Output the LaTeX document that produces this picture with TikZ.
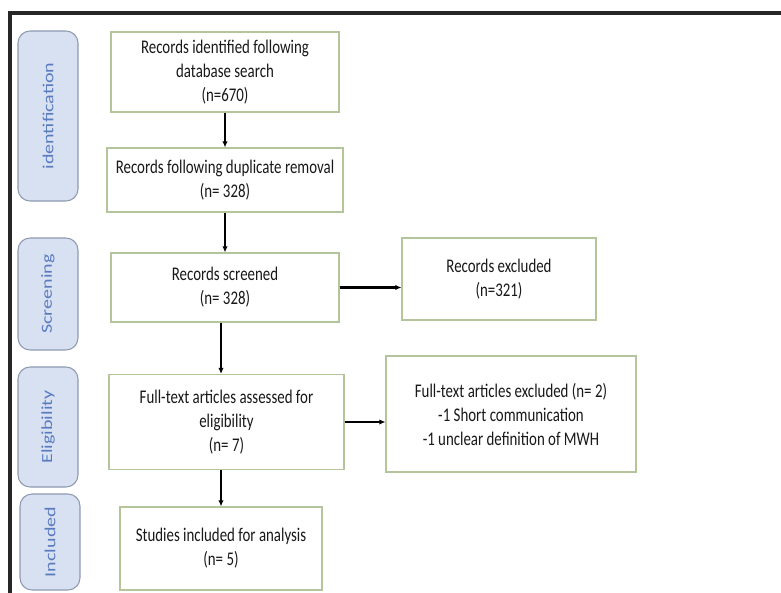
\documentclass[tikz,border=0pt]{standalone}
\usepackage{fontspec}
\setmainfont{Carlito}[FakeStretch=0.77]
\newfontfamily\phasefont{Carlito}
\usetikzlibrary{arrows.meta}
\definecolor{boxgreen}{HTML}{B4C59B}
\definecolor{phasefill}{HTML}{D8E1F2}
\definecolor{phaseedge}{HTML}{8E9AB0}
\definecolor{phasetext}{HTML}{5A7BBF}

\begin{document}
\begin{tikzpicture}[x=0.75pt,y=-0.75pt,>={Latex[length=4.5pt,width=4pt]},
  box/.style={draw=boxgreen,line width=0.9pt,fill=white,align=center,inner sep=2pt,
    text=black!90,font=\fontsize{14.5}{18}\selectfont},
  phase/.style={draw=phaseedge,fill=phasefill,rounded corners=9pt,line width=0.8pt,
    rotate=90,yscale=0.77,minimum height=58.4pt,text=phasetext,
    font=\phasefont\fontsize{15}{18}\selectfont},
  link/.style={->,line width=1.3pt}]
  \useasboundingbox (0,0) rectangle (781,592);
  \draw[line width=2.4pt,black!85] (10,600) -- (10,13) -- (790,13);

  % phases down the left side
  \foreach \nm/\x/\y/\len/\txt in {ident/48/116/127.5pt/identification,
                                   screen/48/294/84pt/Screening,
                                   elig/48/427/90pt/Eligibility,
                                   incl/50/542/72pt/Included}
    \node[phase,minimum width=\len] (\nm) at (\x,\y) {\txt};

  \node[box,minimum width=171pt,minimum height=60pt] (b1) at (225,72)
    {Records identified following\\database search\\(n=670)};
  \node[box,minimum width=177pt,minimum height=48pt] (b2) at (225,180)
    {Records following duplicate removal\\(n= 328)};
  \node[box,minimum width=171pt,minimum height=51.75pt] (b3) at (225,287.5)
    {Records screened\\(n= 328)};
  \node[box,minimum width=176.25pt,minimum height=71.25pt] (b4) at (226.5,422)
    {Full-text articles assessed for\\eligibility\\(n= 7)};
  \node[box,minimum width=151.5pt,minimum height=62.25pt] (b5) at (221,548.5)
    {Studies included for analysis\\(n= 5)};
  \node[box,minimum width=145.5pt,minimum height=61.5pt] (r1) at (499,279)
    {Records excluded\\(n=321)};
  \node[box,minimum width=187.5pt,minimum height=87pt] (r2) at (511,414)
    {Full-text articles excluded (n= 2)\\-1 Short communication\\-1 unclear definition of MWH};

  \draw[link] (b1) -- (b2);
  \draw[link] (b2) -- (b3);
  \draw[link] (b3.south -| b5) -- (b4.north -| b5);
  \draw[link] (b4.south -| b5) -- (b5);
  \draw[link,line width=1.8pt] (b3.east) -- (b3.east -| r1.west);
  \draw[link] (b4.east) -- (b4.east -| r2.west);
\end{tikzpicture}
\end{document}
